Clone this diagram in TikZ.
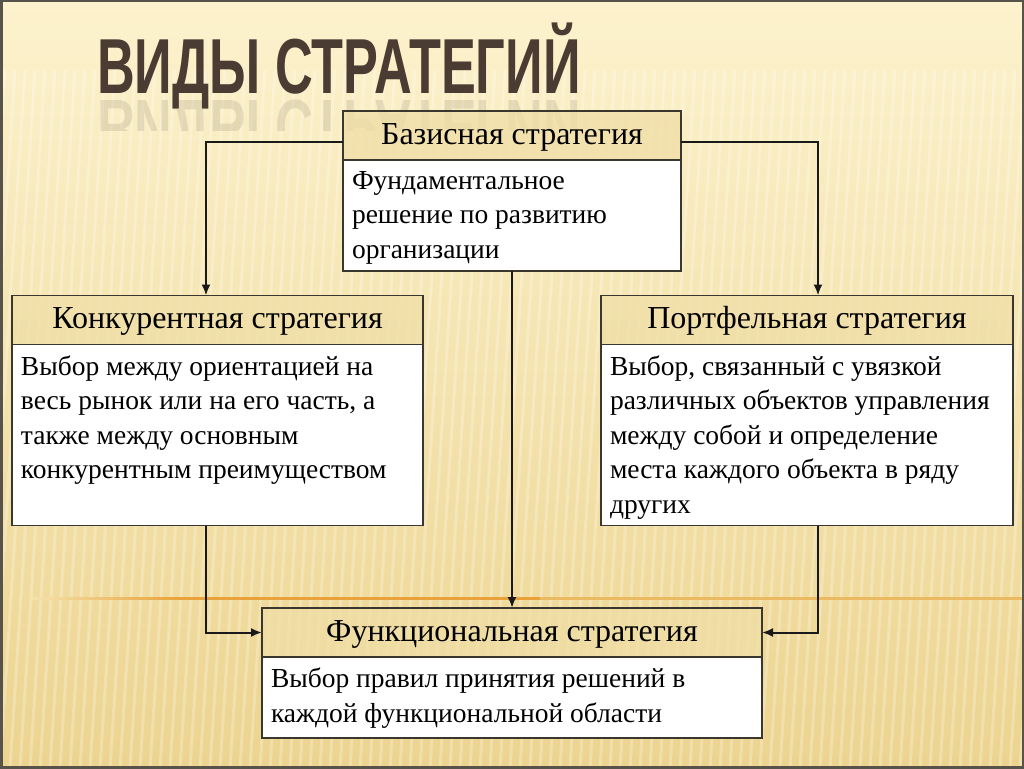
\documentclass[tikz,border=0pt]{standalone}
\usepackage{fontspec}
\setmainfont{Liberation Serif}
\newfontfamily\titlefont{Liberation Sans}
\usetikzlibrary{positioning,arrows.meta}

\definecolor{bgtop}{HTML}{FCF2CD}
\definecolor{bgbot}{HTML}{ECD48F}
\definecolor{headfill}{HTML}{F0DEA6}
\definecolor{boxline}{HTML}{3A372E}
\definecolor{titlebrown}{HTML}{4A3C32}
\definecolor{rulecol}{HTML}{E9A23B}
\definecolor{framecol}{HTML}{57524A}

\tikzset{
    headbox/.style={draw=boxline, line width=1.3pt, fill=headfill, fill opacity=0.75,
        text opacity=1, minimum height=49pt, text height=33pt, text depth=16pt,
        inner sep=0pt, outer sep=0pt, font=\fontsize{32}{36}\selectfont},
    bodybox/.style={draw=boxline, line width=1.3pt, fill=white, inner sep=0pt, outer sep=0pt,
        font=\fontsize{27.5}{34.5}\selectfont},
    link/.style={draw=black!90, line width=2pt, -{Latex[length=11pt,width=9pt]}}
}
\newcommand{\boxtext}[3]{\parbox[c][#2][t]{#1}{\raggedright\leftskip=9pt\vspace*{11pt}#3}}

\begin{document}
\begin{tikzpicture}[x=1pt, y=-1pt]
        \useasboundingbox (0,0) rectangle (1024,768);
        \shade[top color=bgtop, bottom color=bgbot] (0,0) rectangle (1024,768);
        \foreach \i in {-60,-50,...,1030}
            \draw[white, opacity=0.25, line width=3pt] (\i,768) -- (\i+45,70);
        \shade[left color=bgtop!50!bgbot, right color=rulecol] (30,597) rectangle (180,599.5);
        \fill[rulecol] (180,597) rectangle (540,599.5);
        \fill[rulecol!55!bgbot] (540,597) rectangle (1024,599.5);
        \draw[framecol, line width=3pt] (1,1) rectangle (1023,767);

        \node[font=\titlefont\bfseries\fontsize{78}{80}\selectfont, text=titlebrown,
            xscale=0.67, inner sep=0pt, anchor=base west] (title) at (97,93) {ВИДЫ СТРАТЕГИЙ};
        \begin{scope}
            \clip (90,97) rectangle (600,130);
            \node[font=\titlefont\bfseries\fontsize{78}{80}\selectfont, text=titlebrown,
                text opacity=0.12, xscale=0.67, yscale=-1, inner sep=0pt, anchor=base west]
                (mirror) at (97,100) {ВИДЫ СТРАТЕГИЙ};
        \end{scope}

        \node[headbox, minimum width=338pt] (bash) at (512,135.5) {Базисная стратегия};
        \node[bodybox, below=0pt of bash] (basb)
            {\boxtext{338pt}{111pt}{Фундаментальное\\решение по развитию\\организации}};

        \node[headbox, minimum width=411pt] (konh) at (217.5,320) {Конкурентная стратегия};
        \node[bodybox, below=0pt of konh] (konb)
            {\boxtext{411pt}{181pt}{Выбор между ориентацией на\\весь рынок или на его часть, а\\также между основным\\конкурентным преимуществом}};

        \node[headbox, minimum width=412pt] (porh) at (807,320) {Портфельная стратегия};
        \node[bodybox, below=0pt of porh] (porb)
            {\boxtext{412pt}{181pt}{Выбор, связанный с увязкой\\различных объектов управления\\между собой и определение\\места каждого объекта в ряду\\других}};

        \node[headbox, minimum width=500pt] (funh) at (512,632.5) {Функциональная стратегия};
        \node[bodybox, below=0pt of funh] (funb)
            {\boxtext{500pt}{81pt}{Выбор правил принятия решений в\\каждой функциональной области}};

        \draw[link] ([yshift=-6pt]bash.west) -| ([xshift=-11.5pt]konh.north);
        \draw[link] ([yshift=-6pt]bash.east) -| ([xshift=11pt]porh.north);
        \draw[link] (basb.south) -- (funh.north);
        \draw[link] ([xshift=-11.5pt]konb.south) |- (funh.west);
        \draw[link] ([xshift=11pt]porb.south) |- (funh.east);
\end{tikzpicture}
\end{document}
